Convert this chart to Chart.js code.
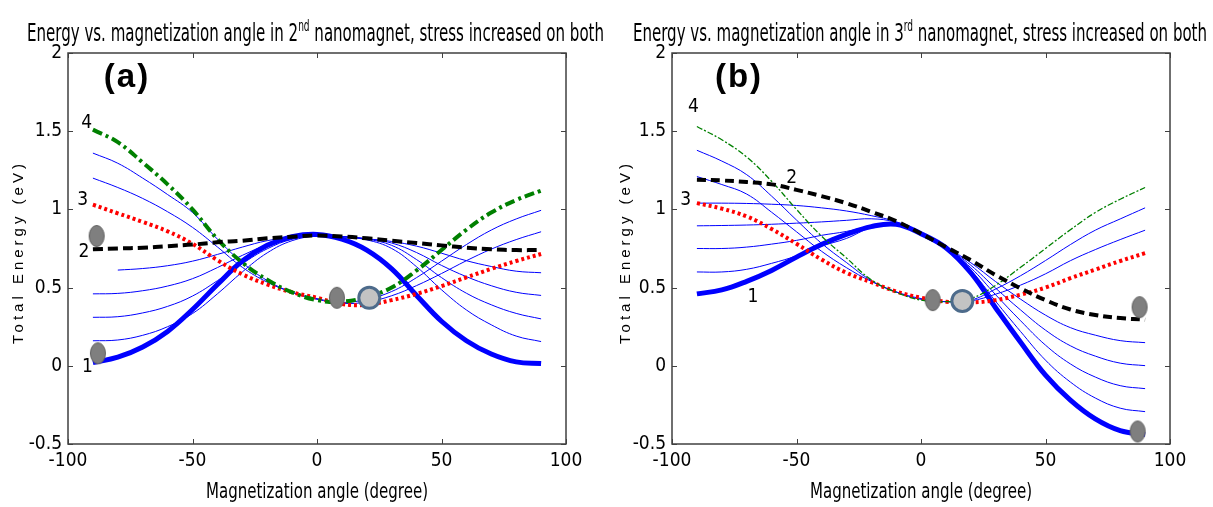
<!DOCTYPE html>
<html><head><meta charset="utf-8">
<script src="https://cdn.jsdelivr.net/npm/chart.js@4.4.0/dist/chart.umd.min.js"></script>
<style>
html,body{margin:0;padding:0;background:#fff;}
#wrap{position:relative;width:1213px;height:507px;overflow:hidden;background:#fff;}
.pane{position:absolute;top:0;height:507px;}
#pa{left:0;width:606px;}
#pb{left:606px;width:607px;}
</style></head><body>
<div id="wrap">
<div class="pane" id="pa"><canvas id="ca" width="606" height="507"></canvas></div>
<div class="pane" id="pb"><canvas id="cb" width="607" height="507"></canvas></div>
</div>
<script>
// ---------- data ----------
const ANGLES = [-90,-80,-70,-60,-50,-40,-30,-20,-10,0,10,20,30,40,50,60,70,80,90];
const X_TICKS = [-100,-50,0,50,100];
const Y_TICKS = [-0.5,0,0.5,1,1.5,2];

// panel (a): 2nd nanomagnet
const A_CURVE1 = [0.02,0.055,0.12,0.22,0.36,0.52,0.67,0.77,0.825,0.84,0.81,0.74,0.62,0.45,0.285,0.16,0.075,0.025,0.015];
const A_CURVE2 = [0.745,0.75,0.755,0.765,0.775,0.79,0.80,0.815,0.825,0.833,0.827,0.815,0.80,0.785,0.77,0.755,0.745,0.74,0.74];
const A_CURVE3 = [1.03,0.975,0.92,0.86,0.78,0.675,0.585,0.52,0.47,0.435,0.395,0.39,0.42,0.46,0.51,0.565,0.62,0.67,0.715];
const A_CURVE4 = [1.51,1.43,1.30,1.16,1.00,0.81,0.66,0.55,0.47,0.42,0.41,0.44,0.50,0.61,0.74,0.87,0.98,1.06,1.12];
const A_THIN1 = [0.16,0.165,0.195,0.25,0.334,0.46,0.60,0.722,0.80,0.83,0.825,0.805,0.75,0.633,0.486,0.357,0.262,0.19,0.155];
const A_THIN2 = [0.31,0.314,0.338,0.38,0.446,0.544,0.653,0.748,0.809,0.83,0.826,0.81,0.77,0.679,0.564,0.464,0.39,0.335,0.30];
const A_THIN3 = [0.46,0.463,0.48,0.51,0.557,0.628,0.706,0.774,0.818,0.83,0.826,0.812,0.785,0.724,0.642,0.57,0.512,0.47,0.45];
const A_THIN4 = [null,0.612,0.622,0.64,0.669,0.712,0.759,0.80,0.822,0.831,0.826,0.812,0.795,0.765,0.72,0.672,0.635,0.605,0.595];
const A_THIN5 = [1.20,1.14,1.07,0.985,0.885,0.76,0.63,0.535,0.47,0.43,0.40,0.408,0.448,0.513,0.59,0.672,0.746,0.807,0.857];
const A_THIN6 = [1.36,1.295,1.20,1.095,0.98,0.81,0.66,0.545,0.47,0.425,0.405,0.425,0.475,0.564,0.669,0.775,0.868,0.939,0.994];
const A_ELLIPSES = [[-88.5,0.83],[-88,0.08],[8,0.435]];
const A_CIRCLES = [[21,0.435]];
const A_NUMS = [['4',-92.5,1.555],['3',-94.1,1.06],['2',-93.6,0.73],['1',-92.2,-0.005]];

// panel (b): 3rd nanomagnet
const B_CURVE1 = [0.46,0.485,0.54,0.61,0.695,0.775,0.84,0.89,0.905,0.845,0.755,0.595,0.37,0.15,-0.06,-0.22,-0.34,-0.415,-0.44];
const B_CURVE2 = [1.19,1.185,1.175,1.16,1.125,1.085,1.04,0.985,0.925,0.845,0.76,0.675,0.58,0.495,0.42,0.36,0.325,0.305,0.295];
const B_CURVE3 = [1.04,1.005,0.955,0.875,0.78,0.68,0.595,0.535,0.475,0.435,0.41,0.405,0.42,0.455,0.50,0.56,0.615,0.67,0.72];
const B_CURVE4 = [1.53,1.445,1.335,1.18,1.00,0.83,0.69,0.55,0.47,0.42,0.41,0.43,0.515,0.63,0.75,0.87,0.98,1.065,1.14];
const B_THIN1 = [0.60,0.60,0.617,0.655,0.703,0.765,0.814,0.884,0.909,0.845,0.756,0.611,0.412,0.219,0.036,-0.104,-0.206,-0.271,-0.293];
const B_THIN2 = [0.75,0.75,0.759,0.778,0.802,0.834,0.859,0.894,0.913,0.845,0.757,0.627,0.454,0.288,0.132,0.012,-0.072,-0.127,-0.146];
const B_THIN3 = [0.895,0.897,0.90,0.905,0.912,0.92,0.93,0.94,0.917,0.845,0.758,0.643,0.496,0.357,0.228,0.128,0.062,0.017,0.001];
const B_THIN4 = [1.04,1.04,1.038,1.033,1.025,1.01,0.99,0.96,0.921,0.845,0.759,0.659,0.538,0.426,0.324,0.244,0.196,0.161,0.148];
const B_THIN5 = [1.21,1.159,1.098,0.982,0.857,0.733,0.628,0.54,0.473,0.43,0.41,0.415,0.458,0.516,0.588,0.672,0.743,0.807,0.867];
const B_THIN6 = [1.378,1.309,1.222,1.085,0.932,0.784,0.661,0.545,0.472,0.425,0.41,0.42,0.491,0.576,0.673,0.775,0.867,0.939,1.01];
const B_ELLIPSES = [[4.7,0.42],[87.8,0.375],[87,-0.42]];
const B_CIRCLES = [[16.6,0.415]];
const B_NUMS = [['4',-91.4,1.657],['2',-51.9,1.20],['3',-94.5,1.06],['1',-67.5,0.44]];

const TITLE_A = ['Energy vs. magnetization angle in 2','nd',' nanomagnet, stress increased on both'];
const TITLE_B = ['Energy vs. magnetization angle in 3','rd',' nanomagnet, stress increased on both'];
const X_TITLE = 'Magnetization angle (degree)';
const Y_TITLE = 'Total Energy (eV)';

// ---------- fonts ----------
function hasFont(name){
  const c=document.createElement('canvas').getContext('2d');
  const t='abcdefghijklmnopqrstuvwxyz0123456789';
  c.font='40px monospace'; const a=c.measureText(t).width;
  c.font='40px "'+name+'", monospace'; const b=c.measureText(t).width;
  return Math.abs(a-b)>0.5;
}
const NARROW = hasFont('Liberation Sans Narrow') ? '"Liberation Sans Narrow"' :
               (hasFont('DejaVu Sans Condensed') ? '"DejaVu Sans Condensed"' : '"Liberation Sans", Arial');
const REG = '"Liberation Sans", Arial, sans-serif';

// ---------- helpers ----------
function pts(vals){ const out=[]; vals.forEach((v,i)=>{ if(v!==null) out.push({x:ANGLES[i],y:v}); }); return out; }
function xy(list){ return list.map(p=>({x:p[0],y:p[1]})); }
function ellipseImg(){
  const c=document.createElement('canvas'); c.width=18; c.height=24;
  const g=c.getContext('2d');
  g.beginPath(); g.ellipse(9,12,7.5,10.5,0,0,Math.PI*2);
  g.fillStyle='#7f7f7f'; g.fill(); g.strokeStyle='#606060'; g.lineWidth=1; g.stroke();
  return c;
}
const ELL = ellipseImg();

function lineDs(vals,color,width,dash,order){
  return {data:pts(vals),borderColor:color,borderWidth:width,borderDash:dash||[],
    pointRadius:0,fill:false,tension:0.4,order:order,borderCapStyle:'butt'};
}

const framePlugin = {
  id:'frameText',
  afterDraw(chart){
    const o = chart.options.plugins.frameText;
    const ctx=chart.ctx, a=chart.chartArea, xs=chart.scales.x, ys=chart.scales.y;
    ctx.save();
    // box + inward ticks
    ctx.strokeStyle='#404040'; ctx.lineWidth=1.5;
    ctx.strokeRect(a.left, a.top, a.right-a.left, a.bottom-a.top);
    ctx.lineWidth=1; ctx.beginPath();
    X_TICKS.forEach(t=>{ const p=Math.round(xs.getPixelForValue(t))+0.5;
      ctx.moveTo(p,a.bottom); ctx.lineTo(p,a.bottom-5); ctx.moveTo(p,a.top); ctx.lineTo(p,a.top+5); });
    Y_TICKS.forEach(t=>{ const p=Math.round(ys.getPixelForValue(t))+0.5;
      ctx.moveTo(a.left,p); ctx.lineTo(a.left+5,p); ctx.moveTo(a.right,p); ctx.lineTo(a.right-5,p); });
    ctx.stroke();
    // curve numbers
    ctx.fillStyle='#000'; ctx.textAlign='center'; ctx.textBaseline='middle';
    ctx.font='19px '+NARROW;
    o.nums.forEach(n=>{ ctx.fillText(n[0], xs.getPixelForValue(n[1]), ys.getPixelForValue(n[2])); });
    // panel label
    ctx.save();
    ctx.font='bold 33px '+REG;
    if('letterSpacing' in ctx){ ctx.letterSpacing='2px'; }
    ctx.fillText(o.panel[0], xs.getPixelForValue(o.panel[1]), ys.getPixelForValue(o.panel[2]));
    ctx.restore();
    // main title with superscript, compressed to width
    const parts=o.title, base='25px '+NARROW, sup='15px '+NARROW;
    let w=0; const ws=[];
    parts.forEach((t,i)=>{ ctx.font=(i===1?sup:base); const m=ctx.measureText(t).width; ws.push(m); w+=m; });
    const sx=(o.titleX1-o.titleX0)/w;
    ctx.save(); ctx.translate(o.titleX0, 41); ctx.scale(sx,1);
    ctx.textAlign='left'; ctx.textBaseline='alphabetic';
    let cx=0; parts.forEach((t,i)=>{ ctx.font=(i===1?sup:base); ctx.fillText(t,cx,i===1?-10:0); cx+=ws[i]; });
    ctx.restore();
    // x title
    ctx.font='22px '+NARROW;
    const xw=ctx.measureText(X_TITLE).width, xsx=222/xw;
    ctx.save(); ctx.translate((a.left+a.right)/2, 498); ctx.scale(xsx,1);
    ctx.textAlign='center'; ctx.textBaseline='alphabetic'; ctx.fillText(X_TITLE,0,0);
    ctx.restore();
    // y title
    ctx.save(); ctx.translate(o.yTitleX, 252); ctx.rotate(-Math.PI/2);
    ctx.font='15px '+REG; ctx.textAlign='center'; ctx.textBaseline='middle';
    if('letterSpacing' in ctx){ ctx.letterSpacing='4px'; }
    ctx.fillText(Y_TITLE,0,0);
    ctx.restore();
    ctx.restore();
  }
};

function makeChart(id, P){
  const datasets=[
    {data:xy(P.ell),pointStyle:ELL,pointRadius:10,showLine:false,order:0},
    {data:xy(P.circ),pointStyle:'circle',pointRadius:10.5,backgroundColor:'#c3c3c3',borderColor:'#4d6b8b',borderWidth:3,showLine:false,order:0},
    lineDs(P.c2,'#000000',4,P.blackDash,1),
    lineDs(P.c4,'#008000',P.greenW,P.greenDash,2),
    lineDs(P.c3,'#ff0000',4,[3,3],3),
    lineDs(P.c1,'#0000ff',5,[],4),
  ];
  P.thin.forEach(t=>datasets.push(lineDs(t,'#0000ff',1,[],5)));
  return new Chart(document.getElementById(id),{
    type:'line',
    data:{datasets},
    plugins:[framePlugin],
    options:{
      responsive:false, animation:false, events:[],
      layout:{padding:{left:0,right:P.padR,top:53,bottom:0}},
      plugins:{legend:{display:false},tooltip:{enabled:false},
        frameText:{nums:P.nums,panel:P.panel,title:P.title,titleX0:P.tx0,titleX1:P.tx1,yTitleX:P.ytx}},
      scales:{
        x:{type:'linear',min:-100,max:100,
          ticks:{stepSize:50,padding:6,color:'#000',font:{family:NARROW,size:19},maxRotation:0,autoSkip:false,callback:v=>String(v)},
          grid:{display:false,drawTicks:false},border:{display:false},
          afterFit(s){s.height=63;}},
        y:{type:'linear',min:-0.5,max:2,
          ticks:{stepSize:0.5,padding:6,color:'#000',font:{family:NARROW,size:19},autoSkip:false,callback:v=>String(v)},
          grid:{display:false,drawTicks:false},border:{display:false},
          afterFit(s){s.width=P.yw;}}
      }
    }
  });
}

makeChart('ca',{c1:A_CURVE1,c2:A_CURVE2,c3:A_CURVE3,c4:A_CURVE4,
  thin:[A_THIN1,A_THIN2,A_THIN3,A_THIN4,A_THIN5,A_THIN6],
  ell:A_ELLIPSES,circ:A_CIRCLES,nums:A_NUMS,panel:['(a)',-76.3,1.84],
  title:TITLE_A,tx0:27,tx1:604,ytx:19,yw:68,padR:40,
  blackDash:[10,5],greenW:4,greenDash:[10,4,3,4]});
makeChart('cb',{c1:B_CURVE1,c2:B_CURVE2,c3:B_CURVE3,c4:B_CURVE4,
  thin:[B_THIN1,B_THIN2,B_THIN3,B_THIN4,B_THIN5,B_THIN6],
  ell:B_ELLIPSES,circ:B_CIRCLES,nums:B_NUMS,panel:['(b)',-73.1,1.84],
  title:TITLE_B,tx0:27,tx1:601,ytx:20,yw:66,padR:43,
  blackDash:[9,5],greenW:1.3,greenDash:[6,2,2,2]});
</script>
</body></html>
